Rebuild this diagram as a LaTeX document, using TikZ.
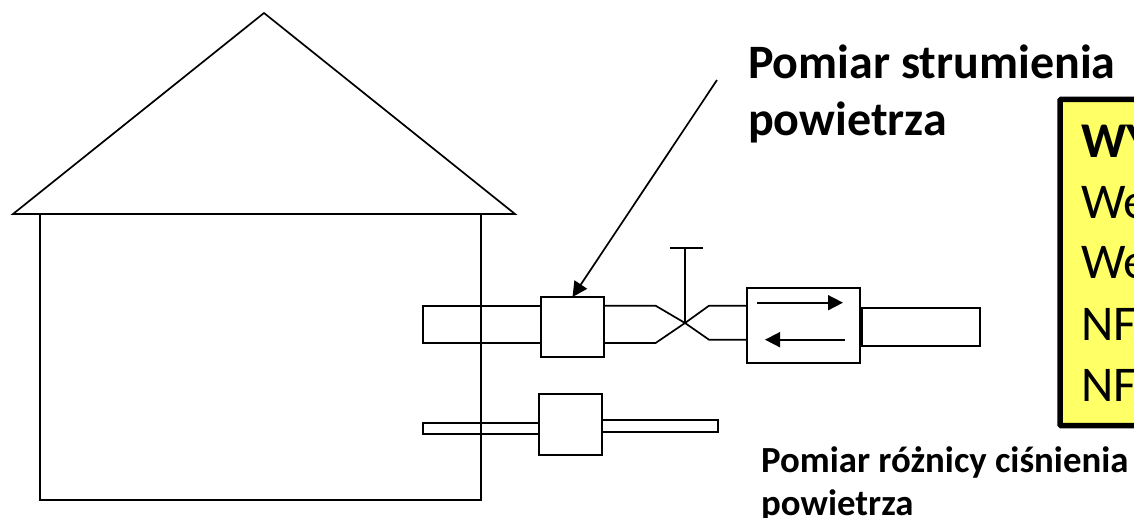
\documentclass[tikz,border=0pt]{standalone}
\usepackage{fontspec}
\setmainfont{Carlito}
\usetikzlibrary{arrows.meta}

\definecolor{notefill}{HTML}{FFFF66}

\tikzstyle{line}=[draw=black,line width=1.7pt]
\tikzstyle{flowtip}=[-{Triangle[length=15pt,width=15pt]}]
\tikzstyle{meter}=[rectangle,draw=black,line width=2pt,fill=white,inner sep=0pt,outer sep=0pt]
\tikzstyle{duct}=[rectangle,draw=black,line width=2pt,inner sep=0pt,outer sep=0pt]
\tikzstyle{note}=[rectangle,draw=black,line width=5.5pt,rounded corners=1pt,fill=notefill,inner sep=0pt,outer sep=0pt]
\tikzstyle{biglabel}=[anchor=base west,inner sep=0pt,font=\fontsize{48}{48}\selectfont\bfseries]
\tikzstyle{smalllabel}=[anchor=base west,inner sep=0pt,font=\fontsize{36.8}{36.8}\selectfont\bfseries]
\tikzstyle{notetext}=[anchor=base west,inner sep=0pt,font=\fontsize{50}{50}\selectfont]

\begin{document}
\begin{tikzpicture}[x=1pt,y=-1pt]
	\useasboundingbox (0,0) rectangle (1134,518);

	% house
	\coordinate (apex) at (264,13);
	\coordinate (eaveL) at (13,214);
	\coordinate (eaveR) at (515,214);
	\draw [line] (eaveL) -- (apex) -- (eaveR) -- cycle;
	\draw [line] (40,214) -- (40,500) -- (481,500) -- (481,214);

	% upper duct
	\node (ductin) at (482,324.3) [duct,minimum width=118pt,minimum height=37.3pt] {};
	\node (ductout) at (921,326.8) [duct,minimum width=118pt,minimum height=37.7pt] {};

	\node (meterA) at (572.5,327) [meter,minimum width=63pt,minimum height=60pt] {};
	\node (recup) at (803.5,325.5) [meter,minimum width=113pt,minimum height=75pt] {};

	% damper
	\coordinate (X) at (685,323);
	\coordinate (handle) at (685,248);
	\draw [line] (meterA.east |- ductin.north) -- (655.6,305.7) -- (X) -- (709,339.7) -- (recup.west |- 0,339.7);
	\draw [line] (meterA.east |- ductin.south) -- (655.6,343) -- (X) -- (709,305.7) -- (recup.west |- 0,305.7);
	\draw [line] (X) -- (handle);
	\draw [line] (670,248) -- (703,248);

	% lower duct
	\node (pipein) at (481,428.3) [duct,minimum width=116pt,minimum height=11.3pt] {};
	\node (pipeout) at (660,425.8) [duct,minimum width=116pt,minimum height=11.7pt] {};
	\node (meterB) at (570.5,424.5) [meter,minimum width=63pt,minimum height=61pt] {};

	% flow arrows
	\coordinate (supA) at (757,302.7);
	\coordinate (supB) at (843,302.7);
	\coordinate (retA) at (845,339.7);
	\coordinate (retB) at (765,339.7);
	\draw [line,flowtip] (supA) to (supB);
	\draw [line,flowtip] (retA) to (retB);

	% labels
	\coordinate (pointer) at (717,80);
	\draw [line,flowtip] (pointer) to (meterA.north);

	\node (flowtitle) at (748,79) [biglabel] {Pomiar strumienia};
	\node (flowtitleb) at (748,136) [biglabel] {powietrza};

	\node (difftitle) at (761,472) [smalllabel] {Pomiar różnicy ciśnienia};
	\node (difftitleb) at (761,515) [smalllabel] {powietrza};

	\node (notebox) at (1160,262.5) [note,minimum width=200pt,minimum height=326pt] {};
	\node (noteA) at (1081,158) [notetext,font=\fontsize{50}{50}\selectfont\bfseries] {WY};
	\node (noteB) at (1081,219) [notetext] {We};
	\node (noteC) at (1081,279) [notetext] {We};
	\node (noteD) at (1081,340) [notetext] {NF};
	\node (noteE) at (1081,401) [notetext] {NF};
\end{tikzpicture}
\end{document}
